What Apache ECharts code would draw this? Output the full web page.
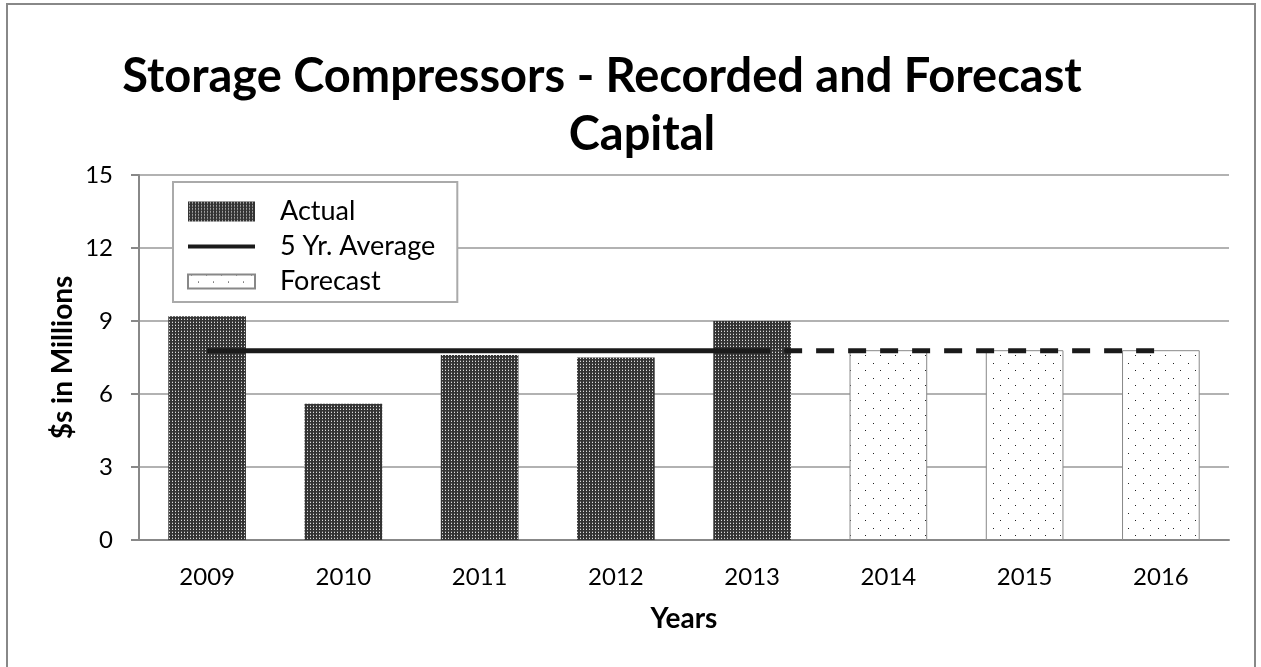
<!DOCTYPE html>
<html>
<head>
<meta charset="utf-8">
<style>
  html, body { margin: 0; padding: 0; background: #fff; }
  #chart { width: 1261px; height: 667px; }
</style>
<script src="https://cdn.jsdelivr.net/npm/echarts@6/dist/echarts.min.js"></script>
</head>
<body>
<div id="chart"></div>
<script>
// data
const years = ['2009', '2010', '2011', '2012', '2013', '2014', '2015', '2016'];
const actual = [9.2, 5.6, 7.6, 7.5, 9.0, null, null, null];
const forecast = [null, null, null, null, null, 7.8, 7.8, 7.8];
const avgRecorded = [7.78, 7.78, 7.78, 7.78, 7.78, null, null, null];
const avgForecast = [null, null, null, null, 7.78, 7.78, 7.78, 7.78];
const yTicks = { min: 0, max: 15, interval: 3 };

const FONT = 'Lato';

// dark dotted fill for recorded bars
function darkPattern() {
    const c = document.createElement('canvas');
    c.width = 3; c.height = 3;
    const ctx = c.getContext('2d');
    ctx.fillStyle = '#333';
    ctx.fillRect(0, 0, 3, 3);
    ctx.fillStyle = '#dcdcdc';
    ctx.fillRect(1, 1, 1, 1);
    ctx.fillStyle = '#666';
    ctx.fillRect(1, 0, 1, 1);
    return c;
}

// sparse dots for forecast bars
function dotPattern() {
    const c = document.createElement('canvas');
    c.width = 15; c.height = 15;
    const ctx = c.getContext('2d');
    ctx.fillStyle = '#fff';
    ctx.fillRect(0, 0, 15, 15);
    ctx.fillStyle = '#222';
    ctx.fillRect(3, 3, 1, 1);
    ctx.fillRect(10, 10, 1, 1);
    return c;
}

const chart = echarts.init(document.getElementById('chart'), null, { renderer: 'canvas' });

const option = {
    backgroundColor: '#fff',
    animation: false,
    textStyle: { fontFamily: FONT },
    graphic: [{
        type: 'rect',
        shape: { x: 7, y: 4, width: 1248, height: 670 },
        style: { fill: 'none', stroke: '#888', lineWidth: 2 },
        z: -1
    }],
    title: [
        {
            text: 'Storage Compressors - Recorded and Forecast',
            left: 597, top: 48, textAlign: 'center',
            textStyle: { fontFamily: FONT, fontSize: 47, fontWeight: 'bold', color: '#000' }
        },
        {
            text: 'Capital',
            left: 637, top: 106, textAlign: 'center',
            textStyle: { fontFamily: FONT, fontSize: 47, fontWeight: 'bold', color: '#000' }
        }
    ],
    legend: {
        orient: 'vertical',
        left: 173, top: 182,
        padding: [16, 22, 7, 14],
        itemWidth: 67, itemHeight: 20, itemGap: 8,
        borderColor: '#aaa', borderWidth: 2,
        backgroundColor: '#fff',
        data: [
            { name: 'Actual', icon: 'rect' },
            { name: '5 Yr. Average', icon: 'path://M0,0H67V4H0Z' },
            { name: 'Forecast', icon: 'path://M0,0H67V14H0Z' }
        ],
        textStyle: { fontFamily: FONT, fontSize: 27, color: '#000', lineHeight: 27, padding: [0, 0, 0, 20] }
    },
    grid: { left: 139, right: 32, top: 175, bottom: 127 },
    xAxis: {
        type: 'category',
        data: years,
        name: 'Years',
        nameLocation: 'middle',
        nameGap: 65,
        nameMoveOverlap: false,
        nameTextStyle: { fontFamily: FONT, fontSize: 28, fontWeight: 'bold', color: '#000' },
        axisLine: { lineStyle: { color: '#888', width: 2 } },
        axisTick: { show: false },
        axisLabel: { fontFamily: FONT, fontSize: 24, color: '#000', margin: 25 }
    },
    yAxis: {
        type: 'value',
        min: yTicks.min, max: yTicks.max, interval: yTicks.interval,
        name: '$s in Millions',
        nameLocation: 'middle',
        nameGap: 62,
        nameMoveOverlap: false,
        nameTextStyle: { fontFamily: FONT, fontSize: 28, fontWeight: 'bold', color: '#000' },
        axisLine: { show: true, lineStyle: { color: '#888', width: 2 } },
        axisTick: { show: true, length: 8, lineStyle: { color: '#888', width: 2 } },
        axisLabel: { fontFamily: FONT, fontSize: 24, color: '#000', margin: 26 },
        splitLine: { lineStyle: { color: '#999', width: 1.5 } }
    },
    series: [
        {
            name: 'Actual',
            type: 'bar',
            data: actual,
            barWidth: '57%',
            barGap: '-100%',
            itemStyle: { color: { image: darkPattern(), repeat: 'repeat' } },
            z: 2
        },
        {
            name: 'Forecast',
            type: 'bar',
            data: forecast,
            barWidth: '57%',
            barGap: '-100%',
            itemStyle: {
                color: { image: dotPattern(), repeat: 'repeat' },
                borderColor: '#888', borderWidth: 1
            },
            z: 2
        },
        {
            name: '5 Yr. Average',
            type: 'line',
            data: avgRecorded,
            symbol: 'none',
            lineStyle: { color: '#1a1a1a', width: 5 },
            itemStyle: { color: '#1a1a1a' },
            z: 3
        },
        {
            name: 'Average Forecast',
            type: 'line',
            data: avgForecast,
            symbol: 'none',
            lineStyle: { color: '#1a1a1a', width: 5, type: [18, 14] },
            itemStyle: { color: '#1a1a1a' },
            z: 3
        }
    ]
};

chart.setOption(option);
</script>
</body>
</html>
